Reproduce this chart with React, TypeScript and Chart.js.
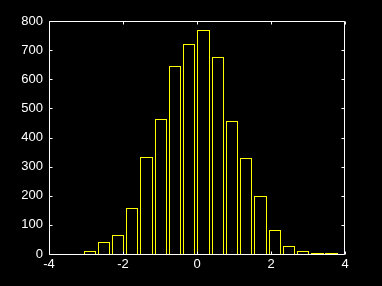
import React, { useEffect, useRef } from 'react';
import { Chart, registerables } from 'chart.js';

Chart.register(...registerables);

const binCenters = [-2.9, -2.52, -2.13, -1.75, -1.36, -0.98, -0.59, -0.21, 0.18, 0.56, 0.95, 1.33, 1.72, 2.1, 2.49, 2.87, 3.26, 3.64];
const counts = [10, 41, 65, 157, 332, 463, 646, 721, 769, 676, 456, 330, 199, 82, 27, 10, 3, 3];
const xTicks = [-4, -2, 0, 2, 4];
const yTicks = [0, 100, 200, 300, 400, 500, 600, 700, 800];

const crispBars = {
  id: 'crispBars',
  beforeDatasetsDraw(chart: any) {
    chart.getSortedVisibleDatasetMetas().forEach((meta: any) => {
      meta.data.forEach((el: any) => {
        const l = Math.round(el.x - el.width / 2);
        const r = Math.round(el.x + el.width / 2);
        el.width = r - l;
        el.x = (l + r) / 2;
        el.y = Math.round(el.y);
        el.base = Math.round(el.base) + 1;
      });
    });
  },
};

const boxTicks = {
  id: 'boxTicks',
  afterDraw(chart: any) {
    const { ctx, chartArea: a, scales } = chart;
    const L = Math.round(a.left) + 0.5;
    const R = Math.round(a.right) - 0.5;
    const T = Math.round(a.top) + 0.5;
    const B = Math.round(a.bottom) + 0.5;
    const tl = 3;
    ctx.save();
    ctx.strokeStyle = '#ffffff';
    ctx.lineWidth = 1;
    ctx.beginPath();
    ctx.moveTo(L, T); ctx.lineTo(R, T); ctx.lineTo(R, B); ctx.lineTo(L, B); ctx.closePath();
    for (const v of xTicks) {
      const p = Math.round(scales.x.getPixelForValue(v)) + 0.5;
      ctx.moveTo(p, B); ctx.lineTo(p, B - tl);
      ctx.moveTo(p, T); ctx.lineTo(p, T + tl);
    }
    for (const v of yTicks) {
      const p = Math.round(scales.y.getPixelForValue(v)) + 0.5;
      ctx.moveTo(L, p); ctx.lineTo(L + tl, p);
      ctx.moveTo(R, p); ctx.lineTo(R - tl, p);
    }
    ctx.stroke();
    ctx.restore();
  },
};

export default function App() {
  const ref = useRef<HTMLCanvasElement>(null);
  useEffect(() => {
    document.body.style.background = '#000';
    const chart = new Chart(ref.current!, {
      type: 'bar',
      data: {
        datasets: [
          {
            data: binCenters.map((x, i) => ({ x, y: counts[i] })),
            backgroundColor: '#000000',
            borderColor: '#ffff00',
            borderWidth: 1,
            borderSkipped: false,
            inflateAmount: 0,
            barPercentage: 0.88,
            categoryPercentage: 1,
          },
        ],
      },
      options: {
        responsive: false,
        animation: false,
        devicePixelRatio: 1,
        layout: { padding: { left: 0, top: 21, right: 37, bottom: 0 } },
        plugins: { legend: { display: false }, tooltip: { enabled: false } },
        scales: {
          x: {
            type: 'linear',
            min: -4,
            max: 4,
            offset: false,
            grid: { display: false, drawTicks: false },
            border: { display: false },
            afterFit: (s: any) => { s.height = 32; },
            afterBuildTicks: (s: any) => { s.ticks = xTicks.map((v) => ({ value: v })); },
            ticks: {
              color: '#ffffff',
              padding: 3,
              maxRotation: 0,
              autoSkip: false,
              font: { family: 'Liberation Sans', size: 13 },
            },
          },
          y: {
            min: 0,
            max: 800,
            grid: { display: false, drawTicks: false },
            border: { display: false },
            afterFit: (s: any) => { s.width = 49; },
            afterBuildTicks: (s: any) => { s.ticks = yTicks.map((v) => ({ value: v })); },
            ticks: {
              color: '#ffffff',
              padding: 6,
              font: { family: 'Liberation Sans', size: 13 },
            },
          },
        },
      },
      plugins: [crispBars, boxTicks],
    });
    return () => chart.destroy();
  }, []);
  return (
    <div style={{ position: 'fixed', left: 0, top: 0, width: 382, height: 286, background: '#000' }}>
      <canvas ref={ref} width={382} height={286} style={{ display: 'block' }} />
    </div>
  );
}
